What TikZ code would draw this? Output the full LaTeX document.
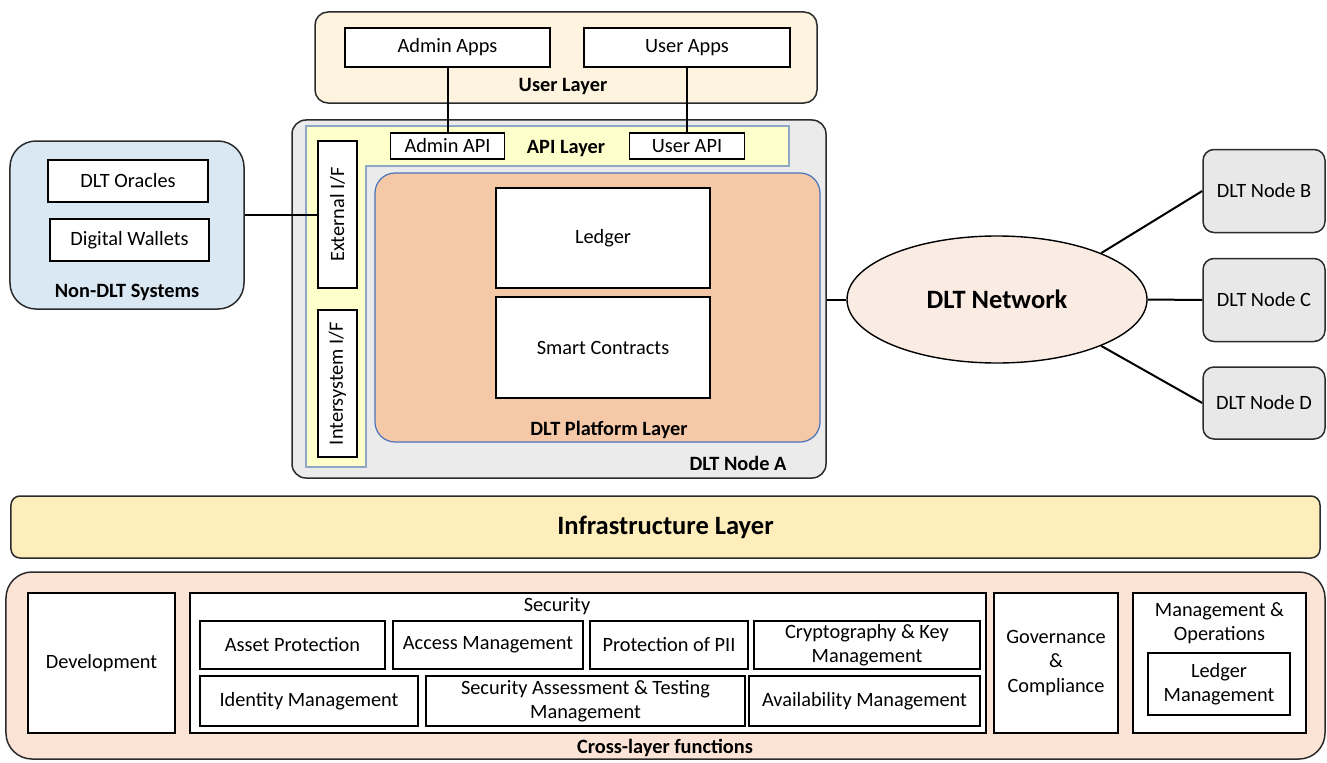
\documentclass[tikz,border=0pt]{standalone}
\usepackage{fontspec}
\setmainfont{Carlito}
\usetikzlibrary{shapes.geometric}

\definecolor{userfill}{HTML}{FEF3DE}
\definecolor{nodefill}{HTML}{EBEBEB}
\definecolor{apifill}{HTML}{FFFFCC}
\definecolor{apiedge}{HTML}{8EA9C8}
\definecolor{platfill}{HTML}{F5C8A8}
\definecolor{platedge}{HTML}{4A72B8}
\definecolor{extfill}{HTML}{DAE8F4}
\definecolor{netfill}{HTML}{FBECE3}
\definecolor{peerfill}{HTML}{E8E8E8}
\definecolor{infrafill}{HTML}{FEEEBB}
\definecolor{crossfill}{HTML}{FBE3D6}
\definecolor{edge}{HTML}{2B2B2B}

\newcommand{\bodyfont}{\fontsize{20.4}{24.5}\selectfont}
\newcommand{\bigfont}{\fontsize{26.6}{31}\selectfont\bfseries}

\tikzset{
  box/.style={draw=black, line width=1.9bp, fill=white, inner sep=0pt,
              align=center, font=\bodyfont},
  layer/.style={draw=edge, line width=1.5bp, inner sep=0pt},
  title/.style={font=\bodyfont\bfseries, inner sep=0pt},
  link/.style={draw=black, line width=2bp},
}

\begin{document}
\begin{tikzpicture}[x=1bp, y=-1bp]
\useasboundingbox (0,0) rectangle (1327,762);

% ---------- User layer ----------
\node[layer, fill=userfill, rounded corners=13bp, minimum width=502bp, minimum height=91bp] (user) at (566,57.5) {};
\node[box, minimum width=205bp, minimum height=39bp] (adminapps) at (447.5,47.5) {Admin Apps};
\node[box, minimum width=206bp, minimum height=39bp] (userapps) at (687,47.5) {User Apps};
\node[title] (userlab) at (563,87) {User Layer};

% ---------- DLT node A ----------
\node[layer, fill=nodefill, rounded corners=14bp, minimum width=534bp, minimum height=358bp] (nodeA) at (559,299) {};

% API layer (L-shaped band)
\draw[draw=apiedge, line width=1.5bp, fill=apifill]
  (306,126) -- (789,126) -- (789,166) -- (366,166) -- (366,467) -- (306,467) -- cycle;
\node[box, minimum width=114bp, minimum height=26bp] (adminapi) at (447.5,146) {Admin API};
\node[box, minimum width=115bp, minimum height=26bp] (userapi) at (687,146) {User API};
\node[title] (apilab) at (566,149) {API Layer};
\node[box, rotate=90, minimum width=147bp, minimum height=39bp] (extif) at (337.5,214.5) {External I/F};
\node[box, rotate=90, minimum width=147bp, minimum height=39bp] (interif) at (337.5,383.5) {Intersystem I/F};

% DLT platform layer
\node[draw=platedge, line width=1.2bp, fill=platfill, rounded corners=20bp, inner sep=0pt,
      minimum width=445bp, minimum height=269bp] (platform) at (597.5,307.5) {};
\node[box, minimum width=214bp, minimum height=100bp] (ledger) at (603,238) {Ledger};
\node[box, minimum width=214bp, minimum height=101bp] (contracts) at (603,347.5) {Smart Contracts};
\node[title] (platlab) at (609,430) {DLT Platform Layer};
\node[title] (nodeAlab) at (738,463) {DLT Node A};

% ---------- Non-DLT systems ----------
\node[layer, fill=extfill, rounded corners=26bp, minimum width=234bp, minimum height=168bp] (nondlt) at (127,225) {};
\node[box, minimum width=160bp, minimum height=42bp] (oracles) at (128,181) {DLT Oracles};
\node[box, minimum width=159bp, minimum height=42bp] (wallets) at (129.5,240) {Digital Wallets};
\node[title] (nondltlab) at (127,292) {Non-DLT Systems};

% ---------- DLT network and peers ----------
\node[ellipse, draw=black, line width=1.4bp, fill=netfill, inner sep=0pt,
      minimum width=300bp, minimum height=127bp, font=\bigfont] (net) at (997,299.5) {DLT Network};
\node[layer, fill=peerfill, rounded corners=11bp, minimum width=122bp, minimum height=83bp, font=\bodyfont] (peerB) at (1264,191) {DLT Node B};
\node[layer, fill=peerfill, rounded corners=11bp, minimum width=122bp, minimum height=83bp, font=\bodyfont] (peerC) at (1264,300) {DLT Node C};
\node[layer, fill=peerfill, rounded corners=11bp, minimum width=122bp, minimum height=72bp, font=\bodyfont] (peerD) at (1264,403) {DLT Node D};

% ---------- Connectors ----------
\draw[link] (adminapps) -- (adminapi);
\draw[link] (userapps) -- (userapi);
\draw[link] (nondlt.east |- extif.center) -- (extif.north);
\draw[link] (nodeA.east |- net.west) -- (net.west);
\draw[link] (net.24) -- (peerB.west);
\draw[link] (net.east) -- (peerC.west);
\draw[link] (net.-24) -- (peerD.west);

% ---------- Infrastructure layer ----------
\node[layer, fill=infrafill, rounded corners=9bp, minimum width=1309bp, minimum height=62bp, font=\bigfont] (infra) at (665.5,527) {Infrastructure Layer};

% ---------- Cross-layer functions ----------
\node[layer, fill=crossfill, rounded corners=26bp, minimum width=1319bp, minimum height=187bp] (cross) at (665.5,665.5) {};
\node[title] (crosslab) at (665,748) {Cross-layer functions};

\node[box, minimum width=147bp, minimum height=140bp] (dev) at (101.5,663) {Development};

\node[box, minimum width=796bp, minimum height=140bp] (security) at (588,663) {};
\node[font=\bodyfont, inner sep=0pt] (seclab) at (557,606) {Security};
\node[box, minimum width=185bp, minimum height=48bp] (asset) at (292.5,645) {Asset Protection};
\node[box, minimum width=190bp, minimum height=48bp] (access) at (488,645) {Access Management};
\node[box, minimum width=158bp, minimum height=48bp] (pii) at (669,645) {Protection of PII};
\node[box, minimum width=226bp, minimum height=48bp] (crypto) at (867,645) {Cryptography \& Key\\Management};
\node[box, minimum width=218bp, minimum height=50bp] (identity) at (309,701) {Identity Management};
\node[box, minimum width=319bp, minimum height=50bp] (assess) at (585.5,701) {Security Assessment \& Testing\\Management};
\node[box, minimum width=231bp, minimum height=50bp] (avail) at (864.5,701) {Availability Management};

\node[box, minimum width=124bp, minimum height=140bp] (gov) at (1056,663) {Governance\\\&\\Compliance};

\node[box, minimum width=173bp, minimum height=140bp] (mgmt) at (1219.5,663) {};
\node[font=\bodyfont, align=center, inner sep=0pt] (mgmtlab) at (1219.5,623) {Management \&\\Operations};
\node[box, minimum width=142bp, minimum height=62bp] (ledgermgmt) at (1219,684) {Ledger\\Management};
\end{tikzpicture}
\end{document}
